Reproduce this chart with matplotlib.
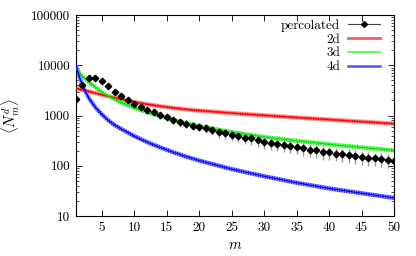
import numpy as np
import matplotlib
matplotlib.use("Agg")
import matplotlib.pyplot as plt
from matplotlib.lines import Line2D
from matplotlib.ticker import FixedLocator, LogLocator, NullFormatter

plt.rcParams['font.family'] = ['cmr10', 'DejaVu Serif']
plt.rcParams['mathtext.fontset'] = 'cm'
plt.rcParams['axes.formatter.use_mathtext'] = True

# percolated measurements, m = 1..50
m_data = np.arange(1, 51)
n_data = [2150, 4000, 5500, 5600, 4850, 3850, 2960, 2430, 2030, 1700,
          1450, 1290, 1160, 1010, 920, 820, 730, 680, 620, 600,
          555, 510, 465, 440, 410, 390, 365, 350, 320, 300,
          285, 275, 260, 250, 240, 222, 210, 205, 190, 185,
          175, 170, 165, 155, 150, 145, 140, 135, 130, 125]
n_err = [120, 300, 450, 480, 420, 350, 280, 240, 210, 190,
         170, 160, 150, 140, 135, 130, 125, 120, 115, 115,
         110, 105, 100, 100, 95, 92, 90, 86, 82, 80,
         77, 75, 72, 70, 68, 64, 62, 60, 57, 55,
         53, 51, 49, 47, 45, 44, 42, 41, 40, 38]

# fitted curves
m_fit = [1, 1.5, 2, 3, 4, 5, 6, 7, 8, 10, 12, 14, 16, 18, 20, 25, 30, 35, 40, 45, 50]
fit_2d = [3510, 3370, 3240, 3010, 2790, 2590, 2420, 2250, 2110, 1860, 1675,
          1535, 1420, 1330, 1256, 1120, 1010, 916, 832, 757, 690]
fit_3d = [8800, 7100, 6000, 4600, 3650, 2900, 2430, 2100, 1820, 1420, 1160,
          965, 820, 710, 620, 470, 375, 315, 268, 232, 203]
fit_4d = [10000, 6000, 3900, 2200, 1450, 1050, 800, 640, 540, 390, 295,
          232, 186, 152, 127, 86, 62, 46, 35.5, 28.5, 23]
band = {'2d': 0.03, '3d': 0.06, '4d': 0.06}

fig = plt.figure(figsize=(4.16, 2.56), dpi=100)
ax = fig.add_axes([0.1827, 0.156, 0.7645, 0.785])

curves = [('2d', fit_2d, '#ff0000', '#ff7a7a'),
          ('3d', fit_3d, '#00e000', '#80ff80'),
          ('4d', fit_4d, '#0000ff', '#8080ff')]
for name, vals, col, light in curves:
    v = np.array(vals)
    ax.plot(m_fit, v, color=light, lw=3.2, alpha=0.8, solid_capstyle='butt', zorder=2)
    ax.plot(m_fit, v * (1 + band[name]), color=col, lw=0.8, ls=(0, (1, 1.2)), zorder=3)
    ax.plot(m_fit, v * (1 - band[name]), color=col, lw=0.8, ls=(0, (1, 1.2)), zorder=3)
    ax.plot(m_fit, v, color=col, lw=0.9, zorder=4)

ax.errorbar(m_data, n_data, yerr=n_err, fmt='none', ecolor='#9a9a9a', elinewidth=1.0,
            capsize=0, zorder=5)
ax.plot(m_data, n_data, ls='none', marker='D', ms=3.3, color='black', zorder=6)

ax.set_yscale('log')
ax.set_xlim(1, 50)
ax.set_ylim(10, 100000)
ax.xaxis.set_major_locator(FixedLocator([5, 10, 15, 20, 25, 30, 35, 40, 45, 50]))
ax.set_xticklabels(['5', '10', '15', '20', '25', '30', '35', '40', '45', '50'])
ax.yaxis.set_major_locator(FixedLocator([10, 100, 1000, 10000, 100000]))
ax.set_yticklabels(['10', '100', '1000', '10000', '100000'])
ax.yaxis.set_minor_locator(LogLocator(base=10, subs=np.arange(2, 10)))
ax.yaxis.set_minor_formatter(NullFormatter())
ax.tick_params(which='both', direction='in', top=True, right=True, labelsize=9.5, pad=4)
ax.tick_params(which='major', length=4, width=0.6)
ax.tick_params(which='minor', length=2, width=0.5)
for s in ax.spines.values():
    s.set_linewidth(0.8)

ax.set_xlabel(r'$m$', fontsize=10.5, labelpad=3)
ax.set_ylabel(r'$\langle N_m^d\rangle$', fontsize=10.5)
ax.yaxis.set_label_coords(-0.17, 0.5)

handles = [Line2D([], [], color='#444444', lw=0.8, marker='D', ms=3.0, mfc='k', mec='k'),
           Line2D([], [], color='#ff5a5a', lw=2.0),
           Line2D([], [], color='#40ff40', lw=1.2),
           Line2D([], [], color='#5050ff', lw=1.8)]
ax.legend(handles, ['percolated', '2d', '3d', '4d'], loc='upper right', frameon=False,
          markerfirst=False, numpoints=1, fontsize=9.5, handlelength=2.4,
          handletextpad=0.6, labelspacing=0.12, borderpad=0.0,
          bbox_to_anchor=(0.955, 0.98), borderaxespad=0.0)

fig.savefig('out.png', dpi=100)
